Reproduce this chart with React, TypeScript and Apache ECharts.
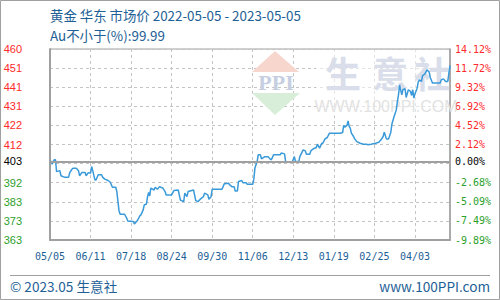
import React, { useEffect, useRef } from 'react';
import * as echarts from 'echarts';

// ---- data ----
const START_DATE = '2022-05-05';
const dayOffsets = [
  0, 1, 2, 3, 4, 5, 6, 9, 10, 13,
  17, 18, 20, 21, 24, 26, 27, 29, 32, 33,
  35, 37, 38, 39, 41, 42, 44, 47, 48, 50,
  53, 55, 57, 60, 61, 62, 63, 64, 68, 70,
  71, 76, 77, 79, 80, 82, 83, 85, 86, 88,
  89, 90, 91, 92, 95, 96, 98, 100, 103, 105,
  106, 108, 111, 113, 117, 119, 122, 123, 125, 126,
  131, 133, 135, 138, 140, 141, 144, 145, 147, 148,
  157, 159, 163, 164, 166, 168, 169, 171, 172, 175,
  176, 179, 180, 185, 186, 187, 189, 190, 192, 193,
  196, 199, 201, 202, 204, 210, 211, 214, 215, 216,
  221, 223, 224, 227, 228, 231, 233, 234, 237, 238,
  240, 243, 244, 246, 248, 249, 251, 253, 255, 257,
  265, 267, 268, 269, 271, 272, 273, 274, 275, 277,
  278, 280, 283, 286, 289, 290, 293, 297, 300, 302,
  304, 305, 307, 309, 311, 312, 314, 316, 317, 318,
  319, 321, 322, 324, 325, 327, 329, 330, 331, 332,
  333, 335, 336, 337, 339, 340, 342, 344, 346, 347,
  349, 351, 356, 357, 359, 361, 363, 364, 365,
];
const prices = [
  403.3, 403.3, 401.9, 403.3, 404.1, 404.1, 398.1, 398.6, 396.0, 395.3,
  395.3, 397.6, 399.3, 399.8, 399.8, 398.6, 396.0, 397.6, 397.6, 396.0,
  397.6, 397.3, 400.7, 398.6, 393.9, 393.9, 396.5, 396.5, 395.3, 394.3,
  393.6, 392.7, 390.2, 390.2, 388.0, 382.9, 378.2, 376.5, 376.5, 374.5,
  373.1, 372.8, 371.6, 372.8, 373.6, 375.7, 376.2, 378.7, 381.2, 381.7,
  385.4, 387.5, 385.8, 389.7, 388.8, 390.2, 389.2, 390.5, 389.7, 388.0,
  386.3, 386.3, 386.3, 388.5, 388.8, 383.7, 382.9, 387.2, 385.4, 388.0,
  388.8, 383.4, 382.9, 384.6, 385.4, 387.2, 386.3, 384.1, 385.4, 389.2,
  389.2, 391.9, 392.2, 391.4, 390.5, 390.5, 388.3, 388.3, 393.1, 393.6,
  392.5, 392.5, 391.7, 391.7, 394.3, 399.9, 403.2, 406.6, 406.6, 404.6,
  405.7, 405.7, 404.4, 404.1, 406.6, 406.6, 407.5, 407.1, 403.2, 402.9,
  402.9, 405.7, 403.2, 403.2, 405.7, 409.1, 408.6, 406.9, 406.9, 408.6,
  409.6, 410.3, 412.0, 410.0, 412.5, 412.5, 414.7, 415.4, 417.6, 417.6,
  417.6, 417.9, 421.5, 420.6, 421.5, 423.8, 421.0, 420.1, 417.6, 415.9,
  414.7, 413.3, 412.5, 412.0, 412.0, 411.7, 412.0, 412.5, 413.0, 414.2,
  415.9, 418.1, 414.7, 414.7, 418.1, 422.2, 426.0, 429.4, 433.6, 437.0,
  442.1, 437.0, 439.6, 440.1, 435.7, 439.6, 438.7, 436.7, 439.6, 435.4,
  437.4, 440.4, 443.5, 444.6, 443.8, 446.8, 447.5, 449.7, 448.6, 445.8,
  443.0, 443.0, 443.0, 444.6, 445.1, 443.8, 443.8, 448.1, 451.9,
];
const xTickLabels = ['05/05', '06/11', '07/18', '08/24', '09/30', '11/06', '12/13', '01/19', '02/25', '04/03'];
// top -> bottom, the 7th entry is the base (0%) line
const priceTickLabels = ['460', '451', '441', '431', '422', '412', '403', '392', '383', '373', '363'];
const pctTickLabels = ['14.12%', '11.72%', '9.32%', '6.92%', '4.52%', '2.12%', '0.00%', '-2.68%', '-5.09%', '-7.49%', '-9.89%'];
const TITLE = '黄金 华东 市场价 2022-05-05 - 2023-05-05';
const SUBTITLE = 'Au不小于(%):99.99';
const FOOTER_LEFT = '© 2023.05 生意社';
const FOOTER_RIGHT = 'www.100PPI.com';

// ---- scale settings ----
const PCT_TOP = 14.12;
const PCT_BOTTOM = -9.88;
const STEP = 2.4;
const DAY_STEP = 37;
const BASE = prices[0];
const toAxis = (p: number) => (p / BASE - 1) * 100 - PCT_BOTTOM;
const BASE_IDX = 6;

const RED = '#ff2a2a';
const GREEN = '#2ca02c';
const BLUE_TEXT = '#1e5f96';
const LINE_BLUE = '#3a9ad9';
const MONO = '"DejaVu Sans Mono", monospace';
const SANS = '"Liberation Sans", Arial, sans-serif';
const CJK = '"Noto Sans CJK SC", sans-serif';

const tickIdx = (v: number) => 10 - Math.round(v / STEP); // index from top
const labelColor = (v: any) => {
  const i = tickIdx(Number(v));
  return i < BASE_IDX ? RED : i > BASE_IDX ? GREEN : '#000';
};

export default function App() {
  const ref = useRef<HTMLDivElement>(null);
  useEffect(() => {
    const chart = echarts.init(ref.current!, null, { renderer: 'svg' });
    const data = dayOffsets.map((d, i) => [d, toAxis(prices[i])]);
    const option: any = {
      animation: false,
      backgroundColor: '#fff',
      grid: {
        left: 50, right: 50, top: 49, bottom: 60,
        show: true, borderColor: '#a0a0a0', borderWidth: 1,
        outerBoundsMode: 'none',
      },
      xAxis: {
        type: 'value', min: 0, max: 365, interval: DAY_STEP,
        axisLine: { show: true, lineStyle: { color: '#a0a0a0', width: 2 } },
        axisTick: { show: false },
        splitLine: { show: true, lineStyle: { color: '#c4c4c4', type: [3, 3], width: 1 } },
        axisLabel: {
          showMaxLabel: false,
          margin: 11,
          color: BLUE_TEXT,
          fontFamily: MONO,
          fontSize: 10,
          formatter: (v: number) => xTickLabels[Math.round(v / DAY_STEP)] ?? '',
        },
      },
      yAxis: [
        {
          type: 'value', position: 'left', min: 0, max: PCT_TOP - PCT_BOTTOM, interval: STEP,
          axisLine: { show: true, lineStyle: { color: '#a0a0a0', width: 2 } },
          axisTick: { show: false },
          splitLine: { show: true, lineStyle: { color: '#c4c4c4', type: [3, 3], width: 1 } },
          axisLabel: {
            margin: 28,
            fontFamily: SANS,
            fontSize: 11,
            color: labelColor,
            formatter: (v: number) => {
              const i = tickIdx(v);
              return i === BASE_IDX ? '' : priceTickLabels[i] ?? '';
            },
          },
        },
        {
          type: 'value', position: 'right', min: 0, max: PCT_TOP - PCT_BOTTOM, interval: STEP,
          axisLine: { show: true, lineStyle: { color: '#a0a0a0', width: 1.5 } },
          axisTick: { show: false },
          splitLine: { show: false },
          axisLabel: {
            margin: 5,
            fontFamily: MONO,
            fontSize: 10,
            color: labelColor,
            formatter: (v: number) => {
              const i = tickIdx(v);
              return i === BASE_IDX ? '' : pctTickLabels[i] ?? '';
            },
          },
        },
      ],
      series: [
        {
          type: 'line',
          yAxisIndex: 0,
          data,
          showSymbol: false,
          symbol: 'none',
          lineStyle: { color: LINE_BLUE, width: 1.5 },
          z: 3,
          markLine: {
            silent: true,
            symbol: 'none',
            lineStyle: { color: '#a0a0a0', width: 2, type: 'solid' },
            data: [
              {
                yAxis: toAxis(BASE),
                label: {
                  show: true, position: 'start', distance: 28,
                  formatter: priceTickLabels[BASE_IDX], color: '#000',
                  fontFamily: SANS, fontSize: 11,
                },
              },
              {
                yAxis: toAxis(BASE),
                label: {
                  show: true, position: 'end', distance: 5,
                  formatter: pctTickLabels[BASE_IDX], color: '#000',
                  fontFamily: MONO, fontSize: 10,
                },
              },
            ],
          },
        },
      ],
      graphic: [
        // outer frame
        { type: 'rect', shape: { x: 0.5, y: 0.5, width: 499, height: 299 }, style: { fill: 'none', stroke: '#a0a0a0', lineWidth: 1 }, z: 10 },
        { type: 'line', shape: { x1: 10, y1: 275.5, x2: 490, y2: 275.5 }, style: { stroke: '#a0a0a0', lineWidth: 1 }, z: 10 },
        // titles
        { type: 'text', x: 50, y: 15, style: { text: TITLE, fill: BLUE_TEXT, font: `13.4px ${CJK}`, verticalAlign: 'middle' }, z: 10 },
        { type: 'text', x: 50, y: 35, style: { text: SUBTITLE, fill: BLUE_TEXT, font: `13.4px ${CJK}`, verticalAlign: 'middle' }, z: 10 },
        // footer
        { type: 'text', x: 10, y: 286, style: { text: FOOTER_LEFT, fill: BLUE_TEXT, font: `13.6px ${CJK}`, verticalAlign: 'middle' }, z: 10 },
        { type: 'text', x: 490, y: 286, style: { text: FOOTER_RIGHT, fill: BLUE_TEXT, font: `13.6px ${CJK}`, verticalAlign: 'middle', align: 'right' }, z: 10 },
        // watermark
        { type: 'rect', shape: { x: 316, y: 50, width: 133, height: 66 }, style: { fill: '#ffffff', opacity: 0.55 }, z: 1 },
        { type: 'polygon', shape: { points: [[275, 51], [252, 72], [299, 72]] }, style: { fill: '#f7d6ce' }, z: 1 },
        { type: 'polygon', shape: { points: [[252, 93], [300, 93], [275, 115]] }, style: { fill: '#d9eed9' }, z: 1 },
        { type: 'text', x: 276, y: 82, style: { text: 'PPI', fill: '#c6cfe2', font: 'bold 22px "Liberation Serif", serif', align: 'center', verticalAlign: 'middle' }, z: 1 },
        { type: 'text', x: 343, y: 72, style: { text: '生', fill: '#d9deea', font: `bold 36px ${CJK}`, align: 'center', verticalAlign: 'middle' }, z: 1 },
        { type: 'text', x: 390, y: 72, style: { text: '意', fill: '#d9deea', font: `bold 36px ${CJK}`, align: 'center', verticalAlign: 'middle' }, z: 1 },
        { type: 'text', x: 432, y: 72, style: { text: '社', fill: '#d9deea', font: `bold 36px ${CJK}`, align: 'center', verticalAlign: 'middle' }, z: 1 },
        { type: 'text', x: 386, y: 106, style: { text: 'WWW.100PPI.COM', fill: '#e2e2e2', font: `16px ${SANS}`, align: 'center', verticalAlign: 'middle' }, z: 1 },
      ],
    };
    chart.setOption(option);
    return () => chart.dispose();
  }, []);
  return (
    <div
      ref={ref}
      style={{ position: 'fixed', left: 0, top: 0, width: 500, height: 300, background: '#fff' }}
    />
  );
}
